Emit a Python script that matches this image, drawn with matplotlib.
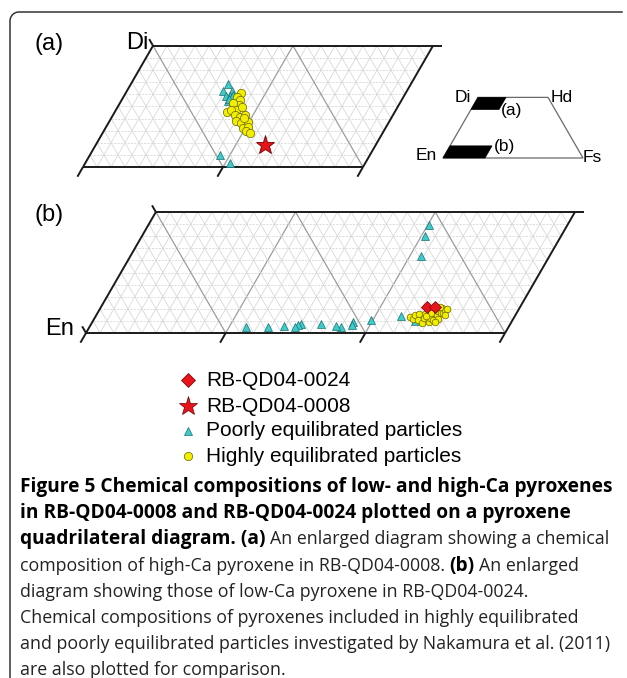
import numpy as np
import matplotlib
matplotlib.use("Agg")
import matplotlib.pyplot as plt
from matplotlib.patches import Polygon

# pyroxene compositions, mol% (Fs, Wo)
a_poor_fs = [6.95, 6.88, 7.50, 7.30, 7.59, 7.74, 7.66, 7.62, 9.34, 10.37]
a_poor_wo = [46.82, 46.24, 46.28, 45.83, 45.83, 45.95, 45.45, 45.62, 40.95, 40.33]
a_high_fs = [8.19, 8.07, 8.44, 8.58, 8.07, 8.02, 8.60, 8.88, 8.25, 8.73,
             9.14, 9.42, 9.08, 9.52, 9.93, 9.82, 10.14, 10.21, 10.55, 9.48]
a_high_wo = [46.12, 45.79, 45.54, 45.12, 45.29, 44.55, 44.71, 44.96, 44.71, 44.26,
             44.13, 44.30, 43.76, 43.60, 43.72, 43.22, 43.31, 42.93, 42.77, 44.05]
qd0008_fs = [12.09]
qd0008_wo = [41.82]

b_poor_fs = [20.10, 20.26, 20.78, 21.88, 23.05, 19.84, 18.67, 18.73, 17.97,
             17.60, 16.43, 15.03, 14.87, 14.70, 13.90, 12.77, 11.21]
b_poor_wo = [8.93, 8.02, 6.36, 1.40, 0.99, 1.07, 0.93, 0.66, 0.52,
             0.58, 0.74, 0.72, 0.66, 0.52, 0.58, 0.47, 0.47]
b_high_fs = [22.51, 22.86, 22.81, 23.03, 23.26, 23.61, 23.56, 23.46, 24.07, 24.00,
             23.90, 24.33, 24.35, 24.65, 24.34, 24.44, 24.62, 24.74, 24.75, 24.80,
             24.96, 24.24, 24.50, 23.64]
b_high_wo = [1.36, 1.16, 1.49, 1.61, 1.07, 0.83, 1.20, 1.61, 0.91, 1.24,
             1.65, 1.07, 1.49, 1.16, 1.78, 2.03, 1.65, 1.69, 1.90, 2.02,
             1.49, 2.19, 0.95, 1.40]
qd0024_fs = [23.34, 23.91]
qd0024_wo = [2.15, 2.15]

# enlarged areas: (Fs from, Fs to, Wo from, Wo to)
area_a = (0, 20, 40, 50)
area_b = (0, 30, 0, 10)

legend_labels = ["RB-QD04-0024", "RB-QD04-0008",
                 "Poorly equilibrated particles", "Highly equilibrated particles"]

W, H = 627, 678
fig = plt.figure(figsize=(W / 100, H / 100), dpi=100)
bg = fig.add_axes([0, 0, 1, 1])
bg.set_xlim(0, W)
bg.set_ylim(H, 0)
bg.axis("off")

# box outline: left side and top, rounded corner
rc = 9
t1 = np.linspace(np.pi, 1.5 * np.pi, 20)
fx = np.r_[10, 10 + rc + rc * np.cos(t1), 622]
fy = np.r_[H, 12 + rc + rc * np.sin(t1), 12]
bg.plot(fx, fy, color="#333333", lw=1.1)

r3 = np.sqrt(3) / 2
lab_font = "Liberation Sans"
cyan, cyan_e = "#3fcbcb", "#1d6f70"
yel, yel_e = "#f2ee00", "#6a6400"
red, red_e = "#e8131b", "#6e0000"


def cart(fs, wo):
    fs = np.asarray(fs, float)
    wo = np.asarray(wo, float)
    return fs + wo / 2, wo * r3


def tern_axes(box, anchor, at, s):
    L, T, R, B = box
    ax = fig.add_axes([L / W, 1 - B / H, (R - L) / W, (B - T) / H])
    cx, cy = cart(*anchor)
    px, py = at
    ax.set_xlim(cx + (L - px) / s, cx + (R - px) / s)
    ax.set_ylim(cy - (B - py) / s, cy + (py - T) / s)
    ax.axis("off")
    return ax


def seg(ax, p, q, **kw):
    x, y = cart([p[0], q[0]], [p[1], q[1]])
    ax.plot(x, y, solid_capstyle="butt", clip_on=False, **kw)


def draw_area(ax, area, en_ticks):
    fs0, fs1, wo0, wo1 = area
    for wo in range(wo0 + 1, wo1):
        seg(ax, (fs0, wo), (fs1, wo), color="#d6d6d6", lw=0.6, ls=(0, (2.5, 1.5)))
    for fs in range(fs0 + 1, fs1):
        major = fs % 10 == 0
        seg(ax, (fs, wo0), (fs, wo1), color="#9c9c9c" if major else "#d8d8d8",
            lw=0.9 if major else 0.6)
    for en in range(100 - fs1 - wo1 + 1, 100 - fs0 - wo0):
        c = 100 - en
        lo, hi = max(wo0, c - fs1), min(wo1, c - fs0)
        if hi <= lo:
            continue
        major = en % 10 == 0
        seg(ax, (c - lo, lo), (c - hi, hi), color="#9c9c9c" if major else "#d8d8d8",
            lw=0.9 if major else 0.6)
    k = dict(color="#1a1a1a", lw=1.4)
    seg(ax, (fs0, wo0), (fs1, wo0), **k)
    seg(ax, (fs0, wo1), (fs1, wo1), **k)
    seg(ax, (fs0, wo0), (fs0, wo1), **k)
    seg(ax, (fs1, wo0), (fs1, wo1), **k)
    for fs in range(fs0, fs1 + 1, 10):
        seg(ax, (fs, wo0), (fs, wo0 - 0.8), **k)
    seg(ax, (fs1, wo1), (fs1 + 0.65, wo1), **k)
    for f, w in en_ticks:
        seg(ax, (f, w), (f - 0.55, w + 0.55), **k)


# (a) high-Ca pyroxene
ax_a = tern_axes((60, 25, 470, 185), (0, 40), (83, 167), 14.0)
draw_area(ax_a, area_a, [(0, 50)])
ax_a.plot(*cart(a_poor_fs, a_poor_wo), "^", ms=6, mfc=cyan, mec=cyan_e, mew=0.5, clip_on=False)
ax_a.plot(*cart(a_high_fs, a_high_wo), "o", ms=6, mfc=yel, mec=yel_e, mew=0.5, clip_on=False)
ax_a.plot(*cart(qd0008_fs, qd0008_wo), "*", ms=14, mfc=red, mec=red_e, mew=0.6, clip_on=False)

# (b) low-Ca pyroxene
ax_b = tern_axes((40, 195, 610, 355), (0, 0), (86, 333), 13.97)
draw_area(ax_b, area_b, [(0, 10), (0, 0)])
ax_b.plot(*cart(b_poor_fs, b_poor_wo), "^", ms=5.5, mfc=cyan, mec=cyan_e, mew=0.5, clip_on=False)
ax_b.plot(*cart(b_high_fs, b_high_wo), "o", ms=4.8, mfc=yel, mec=yel_e, mew=0.5, clip_on=False)
ax_b.plot(*cart(qd0024_fs, qd0024_wo), "D", ms=6.5, mfc=red, mec=red_e, mew=0.5, clip_on=False)

# key quadrilateral
ax_k = tern_axes((400, 80, 620, 172), (0, 0), (443, 158), 1.4)
quad = np.array(cart([0, 100, 50, 0], [0, 0, 50, 50])).T
ax_k.add_patch(Polygon(quad, closed=True, fc="none", ec="#6a6a6a", lw=0.9))
for fs0, fs1, wo0, wo1 in (area_a, area_b):
    box = np.array(cart([fs0, fs1, fs1, fs0], [wo0, wo0, wo1, wo1])).T
    ax_k.add_patch(Polygon(box, closed=True, fc="black", ec="black", lw=0.5))

ks = 12.5
bg.text(471, 97, "Di", ha="right", va="center", fontsize=ks, family=lab_font)
bg.text(551, 98, "Hd", ha="left", va="center", fontsize=ks, family=lab_font)
bg.text(437, 155, "En", ha="right", va="center", fontsize=ks, family=lab_font)
bg.text(583, 157, "Fs", ha="left", va="center", fontsize=ks, family=lab_font)
bg.text(501, 111, "(a)", ha="left", va="center", fontsize=ks, family=lab_font)
bg.text(494, 147, "(b)", ha="left", va="center", fontsize=ks, family=lab_font)

bg.text(35, 44, "(a)", ha="left", va="center", fontsize=17, family=lab_font)
bg.text(148, 43, "Di", ha="right", va="center", fontsize=17, family=lab_font)
bg.text(35, 215, "(b)", ha="left", va="center", fontsize=17, family=lab_font)
bg.text(74, 329, "En", ha="right", va="center", fontsize=17, family=lab_font)

# legend
leg_y = [380, 406, 431, 456]
leg_style = [dict(marker="D", ms=7, mfc=red, mec=red_e),
             dict(marker="*", ms=14, mfc=red, mec=red_e),
             dict(marker="^", ms=6, mfc=cyan, mec=cyan_e),
             dict(marker="o", ms=6, mfc=yel, mec=yel_e)]
for y, lab, st in zip(leg_y, legend_labels, leg_style):
    bg.plot([188], [y], ls="none", mew=0.5, **st)
    bg.text(206, y, lab, ha="left", va="center", fontsize=15, family=lab_font)

# caption
cap_font = "Open Sans"
rend = fig.canvas.get_renderer()
cap_lines = [
    [("Figure 5 Chemical compositions of low- and high-Ca pyroxenes", "bold")],
    [("in RB-QD04-0008 and RB-QD04-0024 plotted on a pyroxene", "bold")],
    [("quadrilateral diagram. (a)", "bold"), ("An enlarged diagram showing a chemical", "normal")],
    [("composition of high-Ca pyroxene in RB-QD04-0008.", "normal"), ("(b)", "bold"),
     ("An enlarged", "normal")],
    [("diagram showing those of low-Ca pyroxene in RB-QD04-0024.", "normal")],
    [("Chemical compositions of pyroxenes included in highly equilibrated", "normal")],
    [("and poorly equilibrated particles investigated by Nakamura et al. (2011)", "normal")],
    [("are also plotted for comparison.", "normal")],
]


def text_w(s, size, weight):
    t = bg.text(0, 0, s, fontsize=size, fontweight=weight, family=cap_font)
    w = t.get_window_extent(rend).width
    t.remove()
    return w


# bold and regular sizes each fitted to a full-width line
size = {"bold": 10 * 592 / text_w(cap_lines[0][0][0], 10, "bold"),
        "normal": 10 * 590 / text_w(cap_lines[6][0][0], 10, "normal")}
space = text_w("a a", size["normal"], "normal") - text_w("aa", size["normal"], "normal")
for i, parts in enumerate(cap_lines):
    x, y = 20, 492 + 26.2 * i
    for s, wt in parts:
        t = bg.text(x, y, s, ha="left", va="baseline", fontsize=size[wt], fontweight=wt,
                    family=cap_font, color="black" if wt == "bold" else "#222222")
        bb = t.get_window_extent(rend)
        x = bg.transData.inverted().transform((bb.x1, bb.y0))[0] + space

fig.savefig("out.png", dpi=100)
